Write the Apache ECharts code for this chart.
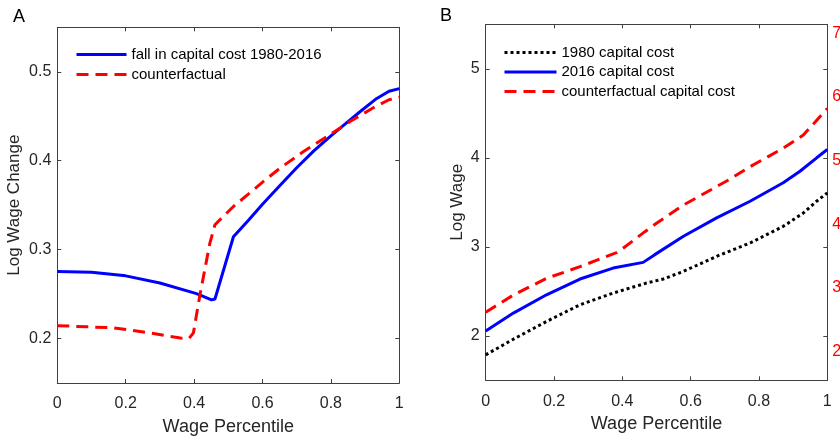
<!DOCTYPE html>
<html><head><meta charset="utf-8">
<script src="https://cdn.jsdelivr.net/npm/echarts@6/dist/echarts.min.js"></script>
<style>html,body{margin:0;padding:0;background:#fff}#c{width:840px;height:437px}</style>
</head><body><div id="c"></div>
<script>
// ---- Panel A data ----
const xTicks = [0, 0.2, 0.4, 0.6, 0.8, 1];
const yTicksA = [0.2, 0.3, 0.4, 0.5];
const pA_fall = [0, 0.1, 0.2, 0.3, 0.407, 0.451, 0.461, 0.515, 0.559, 0.60, 0.651, 0.70, 0.75, 0.80, 0.85, 0.885, 0.934, 0.97, 1.0];
const vA_fall = [0.2755, 0.2745, 0.2705, 0.2625, 0.2505, 0.2435, 0.2445, 0.3145, 0.333, 0.351, 0.372, 0.392, 0.411, 0.428, 0.444, 0.455, 0.470, 0.478, 0.481];
const pA_cf = [0, 0.164, 0.271, 0.36, 0.385, 0.398, 0.417, 0.446, 0.461, 0.515, 0.573, 0.602, 0.651, 0.719, 0.788, 0.856, 0.924, 0.97, 1.0];
const vA_cf = [0.2145, 0.212, 0.2064, 0.2005, 0.200, 0.2064, 0.249, 0.307, 0.328, 0.3485, 0.367, 0.3765, 0.3916, 0.410, 0.427, 0.444, 0.4595, 0.4685, 0.4713];
// ---- Panel B data ----
const yTicksB = [2, 3, 4, 5];
const pB_1980 = [0, 0.081, 0.178, 0.276, 0.373, 0.471, 0.52, 0.579, 0.676, 0.774, 0.871, 0.93, 0.969, 1.0];
const vB_1980 = [1.786, 1.962, 2.161, 2.349, 2.48, 2.593, 2.638, 2.724, 2.893, 3.043, 3.23, 3.38, 3.512, 3.606];
const pB_2016 = [0, 0.081, 0.178, 0.276, 0.373, 0.461, 0.495, 0.579, 0.676, 0.774, 0.871, 0.920, 0.969, 1.0];
const vB_2016 = [2.055, 2.255, 2.461, 2.638, 2.761, 2.825, 2.912, 3.118, 3.325, 3.512, 3.719, 3.849, 4.0, 4.093];
// counterfactual plotted against the red right-hand axis
const pB_cf = [0, 0.081, 0.178, 0.276, 0.383, 0.402, 0.466, 0.5, 0.579, 0.711, 0.774, 0.871, 0.93, 1.0];
const vB_cf = [2.620, 2.890, 3.152, 3.335, 3.555, 3.624, 3.885, 4.016, 4.303, 4.697, 4.906, 5.195, 5.403, 5.819];
const rightTicksB = [2, 3, 4, 5, 6, 7];

const legendA = ['fall in capital cost 1980-2016', 'counterfactual'];
const legendB = ['1980 capital cost', '2016 capital cost', 'counterfactual capital cost'];

const FONT = "'Liberation Sans', Arial, Helvetica, sans-serif";
const AX = '#404040';
const TXT = '#262626';
const zip = (a, b) => a.map((x, i) => [x, b[i]]);

function xAx(gi, show) {
  return {
    type: 'value', gridIndex: gi, min: 0, max: 1, interval: 0.2,
    position: show ? 'bottom' : 'top',
    name: show ? 'Wage Percentile' : '', nameLocation: 'middle', nameGap: 35,
    nameTextStyle: { fontFamily: FONT, fontSize: 18, color: TXT },
    axisLine: { show: true, onZero: false, lineStyle: { color: AX, width: 1 } },
    axisTick: { show: true, inside: true, length: 4, customValues: xTicks, lineStyle: { color: AX } },
    axisLabel: { show: show, customValues: xTicks, fontFamily: FONT, fontSize: 16, color: TXT, margin: 13,
      formatter: v => String(+(+v).toFixed(1)) },
    splitLine: { show: false }
  };
}
function yAx(gi, min, max, ticks, show, name, gap) {
  return {
    type: 'value', gridIndex: gi, min: min, max: max,
    position: show ? 'left' : 'right',
    name: show ? name : '', nameLocation: 'middle', nameGap: gap,
    nameTextStyle: { fontFamily: FONT, fontSize: 17, color: TXT },
    axisLine: { show: true, onZero: false, lineStyle: { color: AX, width: 1 } },
    axisTick: { show: true, inside: true, length: 4, customValues: ticks, lineStyle: { color: AX } },
    axisLabel: { show: show, customValues: ticks, fontFamily: FONT, fontSize: 16, color: TXT, margin: 6,
      formatter: v => String(+(+v).toFixed(1)) },
    splitLine: { show: false }
  };
}

const legendCommon = {
  orient: 'vertical', itemWidth: 50, itemHeight: 12, itemGap: 5,
  itemStyle: { color: 'transparent', borderWidth: 0, opacity: 0 },
  lineStyle: { width: 3 },
  textStyle: { fontFamily: FONT, fontSize: 15, color: '#000' }
};

const chart = echarts.init(document.getElementById('c'), null, { renderer: 'canvas' });
chart.setOption({
  animation: false,
  backgroundColor: '#fff',
  title: [
    { text: 'A', left: 8, top: 3, textStyle: { fontFamily: FONT, fontSize: 18, fontWeight: 'normal', color: '#000' } },
    { text: 'B', left: 435, top: 2, textStyle: { fontFamily: FONT, fontSize: 18, fontWeight: 'normal', color: '#000' } }
  ],
  grid: [
    { left: 57.3, top: 27.3, width: 342, height: 355.7, containLabel: false, outerBoundsMode: 'none' },
    { left: 485.7, top: 24.3, width: 341.6, height: 356, containLabel: false, outerBoundsMode: 'none' }
  ],
  legend: [
    Object.assign({}, legendCommon, { data: legendA, left: 70, top: 42 }),
    Object.assign({}, legendCommon, { data: legendB, left: 498, top: 40, itemWidth: 52, itemGap: 4.5 })
  ],
  xAxis: [xAx(0, true), xAx(0, false), xAx(1, true), xAx(1, false)],
  yAxis: [
    yAx(0, 0.15, 0.55, yTicksA, true, 'Log Wage Change', 34),
    yAx(0, 0.15, 0.55, yTicksA, false, '', 0),
    yAx(1, 1.5, 5.5, yTicksB, true, 'Log Wage', 20),
    yAx(1, 1.5, 5.5, yTicksB, false, '', 0),
    {
      type: 'value', gridIndex: 1, min: 1.551, max: 7.141, position: 'right',
      axisLine: { show: false }, axisTick: { show: false }, splitLine: { show: false },
      axisLabel: { show: true, customValues: rightTicksB, fontFamily: FONT, fontSize: 16, color: '#ff0000', margin: 5,
        formatter: v => String(v) }
    }
  ],
  series: [
    { name: legendA[0], type: 'line', xAxisIndex: 0, yAxisIndex: 0, data: zip(pA_fall, vA_fall),
      symbol: 'none', smooth: false, color: '#0000ff', lineStyle: { color: '#0000ff', width: 3 } },
    { name: legendA[1], type: 'line', xAxisIndex: 0, yAxisIndex: 0, data: zip(pA_cf, vA_cf),
      symbol: 'none', smooth: false, color: '#ff0000', lineStyle: { color: '#ff0000', width: 3, type: [12, 7] } },
    { name: legendB[0], type: 'line', xAxisIndex: 2, yAxisIndex: 2, data: zip(pB_1980, vB_1980),
      symbol: 'none', smooth: false, color: '#000000', lineStyle: { color: '#000000', width: 3, type: [3, 3], cap: 'butt' } },
    { name: legendB[1], type: 'line', xAxisIndex: 2, yAxisIndex: 2, data: zip(pB_2016, vB_2016),
      symbol: 'none', smooth: false, color: '#0000ff', lineStyle: { color: '#0000ff', width: 3 } },
    { name: legendB[2], type: 'line', xAxisIndex: 2, yAxisIndex: 4, data: zip(pB_cf, vB_cf),
      symbol: 'none', smooth: false, color: '#ff0000', lineStyle: { color: '#ff0000', width: 3, type: [12, 7] } }
  ]
});
</script></body></html>
